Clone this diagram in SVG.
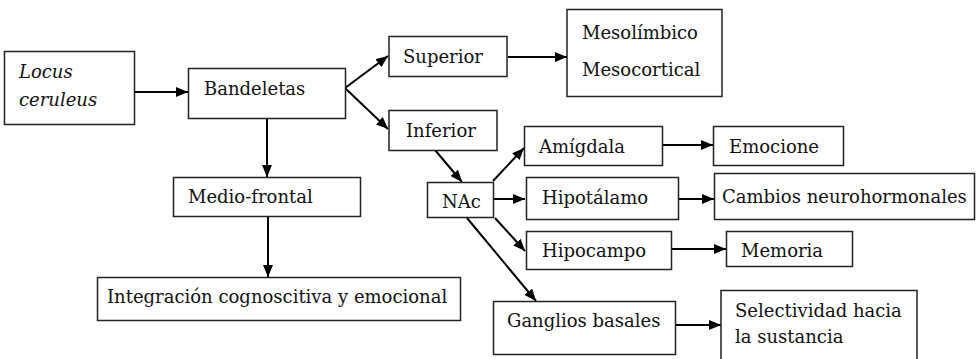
<svg xmlns="http://www.w3.org/2000/svg" width="976" height="359" viewBox="0 0 976 359">
<style>
.box{fill:#fff;stroke:#222;stroke-width:1.5}
.t{font-family:"DejaVu Serif","Liberation Serif",serif;font-size:18px;fill:#111}
.it{font-style:italic}
.c{stroke:#000;stroke-width:2;fill:none;marker-end:url(#ah)}
</style>
<defs>
<marker id="ah" markerUnits="userSpaceOnUse" markerWidth="12" markerHeight="10" refX="12" refY="5" orient="auto">
<path d="M0,0 L12,5 L0,10 Z" fill="#000"/>
</marker>
</defs>
<rect width="976" height="359" fill="#fff"/>
<g id="connectors">
<line class="c" x1="134" y1="92" x2="188" y2="92"/>
<line class="c" x1="345" y1="88" x2="388" y2="56"/>
<line class="c" x1="345" y1="88" x2="388" y2="129"/>
<line class="c" x1="267" y1="118" x2="267" y2="177"/>
<line class="c" x1="508" y1="57" x2="567" y2="57"/>
<line class="c" x1="435" y1="150" x2="462" y2="182"/>
<line class="c" x1="493" y1="181" x2="524" y2="148"/>
<line class="c" x1="494" y1="199" x2="525" y2="199"/>
<line class="c" x1="495" y1="218" x2="525" y2="251"/>
<line class="c" x1="467" y1="218" x2="536" y2="301"/>
<line class="c" x1="662" y1="145" x2="713" y2="145"/>
<line class="c" x1="678" y1="199" x2="714" y2="199"/>
<line class="c" x1="671" y1="249" x2="726" y2="249"/>
<line class="c" x1="675" y1="325" x2="721" y2="325"/>
<line class="c" x1="268" y1="216" x2="268" y2="277"/>
</g>
<g id="locus"><rect class="box" x="4.5" y="51.5" width="130" height="73"/><text class="t it" x="19" y="78">Locus</text><text class="t it" x="19" y="106">ceruleus</text></g>
<g id="bandeletas"><rect class="box" x="188.5" y="68.5" width="157" height="50"/><text class="t" x="204" y="95">Bandeletas</text></g>
<g id="superior"><rect class="box" x="389" y="36.5" width="118" height="40"/><text class="t" x="403" y="63">Superior</text></g>
<g id="meso"><rect class="box" x="567" y="9.5" width="155" height="87"/><text class="t" x="582" y="39">Mesolímbico</text><text class="t" x="582" y="76">Mesocortical</text></g>
<g id="inferior"><rect class="box" x="389" y="110.5" width="108" height="40"/><text class="t" x="406" y="137">Inferior</text></g>
<g id="medio"><rect class="box" x="173.5" y="177.5" width="187" height="39"/><text class="t" x="188" y="203">Medio-frontal</text></g>
<g id="integracion"><rect class="box" x="97.5" y="277.5" width="363" height="43"/><text class="t" x="107" y="303">Integración cognoscitiva y emocional</text></g>
<g id="nac"><rect class="box" x="427.5" y="182.5" width="66" height="35"/><text class="t" x="442" y="208">NAc</text></g>
<g id="amigdala"><rect class="box" x="524.5" y="126.5" width="138" height="39"/><text class="t" x="539" y="153">Amígdala</text></g>
<g id="emocione"><rect class="box" x="713.5" y="126.5" width="130" height="39"/><text class="t" x="729" y="153">Emocione</text></g>
<g id="hipotalamo"><rect class="box" x="526.5" y="177.5" width="152" height="42"/><text class="t" x="542" y="204">Hipotálamo</text></g>
<g id="cambios"><rect class="box" x="714.5" y="173.5" width="260" height="46"/><text class="t" x="722" y="203">Cambios neurohormonales</text></g>
<g id="hipocampo"><rect class="box" x="526.5" y="231.5" width="145" height="38"/><text class="t" x="542" y="257">Hipocampo</text></g>
<g id="memoria"><rect class="box" x="726.5" y="231.5" width="126" height="35"/><text class="t" x="741" y="257">Memoria</text></g>
<g id="ganglios"><rect class="box" x="493.5" y="301.5" width="182" height="53"/><text class="t" x="507" y="327">Ganglios basales</text></g>
<g id="selectividad"><rect class="box" x="721" y="290.5" width="196" height="75"/><text class="t" x="735" y="317">Selectividad hacia</text><text class="t" x="735" y="343">la sustancia</text></g>
</svg>
